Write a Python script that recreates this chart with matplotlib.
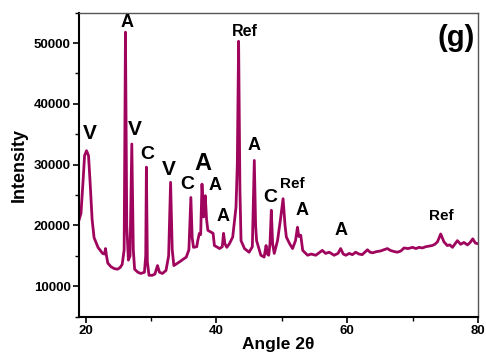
import matplotlib
matplotlib.use("Agg")
import matplotlib.pyplot as plt
from matplotlib.ticker import MultipleLocator

plt.rcParams['font.family'] = ['Liberation Sans', 'DejaVu Sans']
plt.rcParams['font.weight'] = 'bold'

# XRD trace (2theta, counts)
angle = [19.0, 19.3, 19.6, 19.85, 20.15, 20.45, 20.7, 21.0, 21.3, 21.9, 22.6, 22.9, 23.05, 23.2, 23.4,
         23.9, 24.4, 24.9, 25.3, 25.6, 25.9, 26.1, 26.3, 26.55, 26.8, 27.07, 27.3, 27.5, 28.0,
         28.45, 29.0, 29.2, 29.3, 29.45, 29.7, 30.2, 30.6, 31.0, 31.3, 31.75, 32.3, 32.7, 33.0,
         33.25, 33.5, 34.35, 35.4, 35.8, 36.1, 36.3, 36.5, 37.0, 37.15, 37.4, 37.6, 37.8, 38.06,
         38.3, 38.5, 38.7, 39.2, 39.5, 39.7, 40.5, 40.9, 41.1, 41.3, 41.6, 42.0, 42.5, 43.0,
         43.2, 43.4, 43.6, 43.77, 44.3, 45.0, 45.5, 45.8, 46.0, 46.15, 46.8, 47.3, 47.6, 47.8,
         48.0, 48.2, 48.4, 48.6, 48.85, 49.35, 49.8, 50.2, 50.5, 50.7, 51.2, 51.65, 52.1, 52.4,
         52.6, 52.9, 53.2, 53.95, 54.5, 55.2, 55.7, 56.2, 56.7, 57.25, 58.0, 58.6, 59.0, 59.4,
         59.8, 60.3, 60.8, 61.3, 61.8, 62.3, 62.7, 63.1, 63.5, 63.9, 64.5, 65.1, 65.6, 66.15,
         66.6, 67.2, 67.7, 68.2, 68.7, 69.3, 70.0, 70.5, 71.0, 71.5, 72.0, 72.5, 73.0, 73.4,
         73.8, 74.3, 74.8, 75.3, 75.7, 76.1, 76.5, 76.85, 77.35, 77.85, 78.4, 78.8, 79.2, 79.6,
         80.0]
intensity = [20900, 22000, 27000, 31500, 32300, 31500, 27000, 21000, 18000, 16400, 15400, 15300, 16200, 15000, 13800,
             13200, 12900, 12800, 13100, 13600, 16000, 51800, 20000, 14300, 15000, 33400, 16000, 12800, 12300,
             12100, 12300, 15000, 29600, 14000, 11800, 11800, 12000, 13400, 12300, 12100, 12600, 15000, 27100,
             16000, 13400, 14000, 14800, 16000, 24600, 18000, 16400, 16500, 17500, 18700, 18500, 26800, 21400,
             24900, 21000, 19200, 18900, 18700, 16700, 16200, 16500, 18700, 17000, 16400, 17000, 18100, 23000,
             30000, 50300, 26000, 17500, 16200, 15600, 16500, 30700, 20000, 17500, 15100, 14800, 16700, 15300,
             15100, 17000, 22500, 17000, 15400, 17500, 21000, 24400, 20000, 18100, 17000, 16200, 17500, 19700,
             18200, 18400, 15900, 15100, 15300, 15100, 15500, 15900, 15400, 15600, 15100, 15400, 16200, 15300,
             15100, 15400, 15200, 15600, 15300, 15200, 15600, 16000, 15600, 15500, 15700, 15800, 16000, 16200,
             15900, 15700, 15600, 15800, 16300, 16200, 16400, 16200, 16400, 16300, 16500, 16600, 16700, 16900,
             17300, 18600, 17300, 16700, 16800, 16400, 17000, 17500, 16900, 17200, 16800, 17200, 17800, 17100,
             17000]

# phase labels: text, x, y (bottom of text), font size
labels = ["V", "A", "V", "C", "V", "C", "A", "A", "A", "Ref", "A", "C", "Ref", "A", "A", "Ref"]
label_x = [20.6, 26.37, 27.5, 29.4, 32.8, 35.6, 38.0, 39.77, 40.96, 44.35, 45.7, 48.25, 51.6, 53.1, 59.1, 74.4]
label_y = [33600, 52000, 34200, 30300, 27600, 25300, 28300, 25200, 20100, 50600, 31800, 23200, 25600, 21100, 17800, 20400]
label_size = [15, 13, 15, 14, 15, 14, 17, 13, 13, 11.5, 13, 14, 11, 13, 13, 11]

fig = plt.figure(figsize=(4.86, 3.53), dpi=100)
ax = fig.add_axes([0.1626, 0.103, 0.8209, 0.861])

ax.plot(angle, intensity, color='#a0055e', lw=2.0, solid_joinstyle='round')

for t, x, y, s in zip(labels, label_x, label_y, label_size):
    ax.text(x, y, t, ha='center', va='bottom', fontsize=s, fontweight='bold')

ax.text(76.6, 50900, "(g)", ha='center', va='center', fontsize=21, fontweight='bold')

ax.set_xlim(19, 80)
ax.set_ylim(5000, 55000)
ax.xaxis.set_major_locator(MultipleLocator(20))
ax.xaxis.set_minor_locator(MultipleLocator(10))
ax.yaxis.set_major_locator(MultipleLocator(10000))
ax.yaxis.set_minor_locator(MultipleLocator(5000))
ax.tick_params(which='major', direction='out', length=4, width=1.2, labelsize=9.5, pad=2)
ax.tick_params(which='minor', direction='out', length=3, width=1.0)
for lab in ax.get_xticklabels() + ax.get_yticklabels():
    lab.set_fontweight('bold')

for side in ['left', 'bottom']:
    ax.spines[side].set_linewidth(1.5)
for side in ['top', 'right']:
    ax.spines[side].set_linewidth(1.0)
    ax.spines[side].set_color('#555555')

ax.set_xlabel("Angle 2θ", fontsize=12.5, fontweight='bold', labelpad=0)
ax.set_ylabel("Intensity", fontsize=13, fontweight='bold', labelpad=4)

fig.savefig("out.png", dpi=100)
